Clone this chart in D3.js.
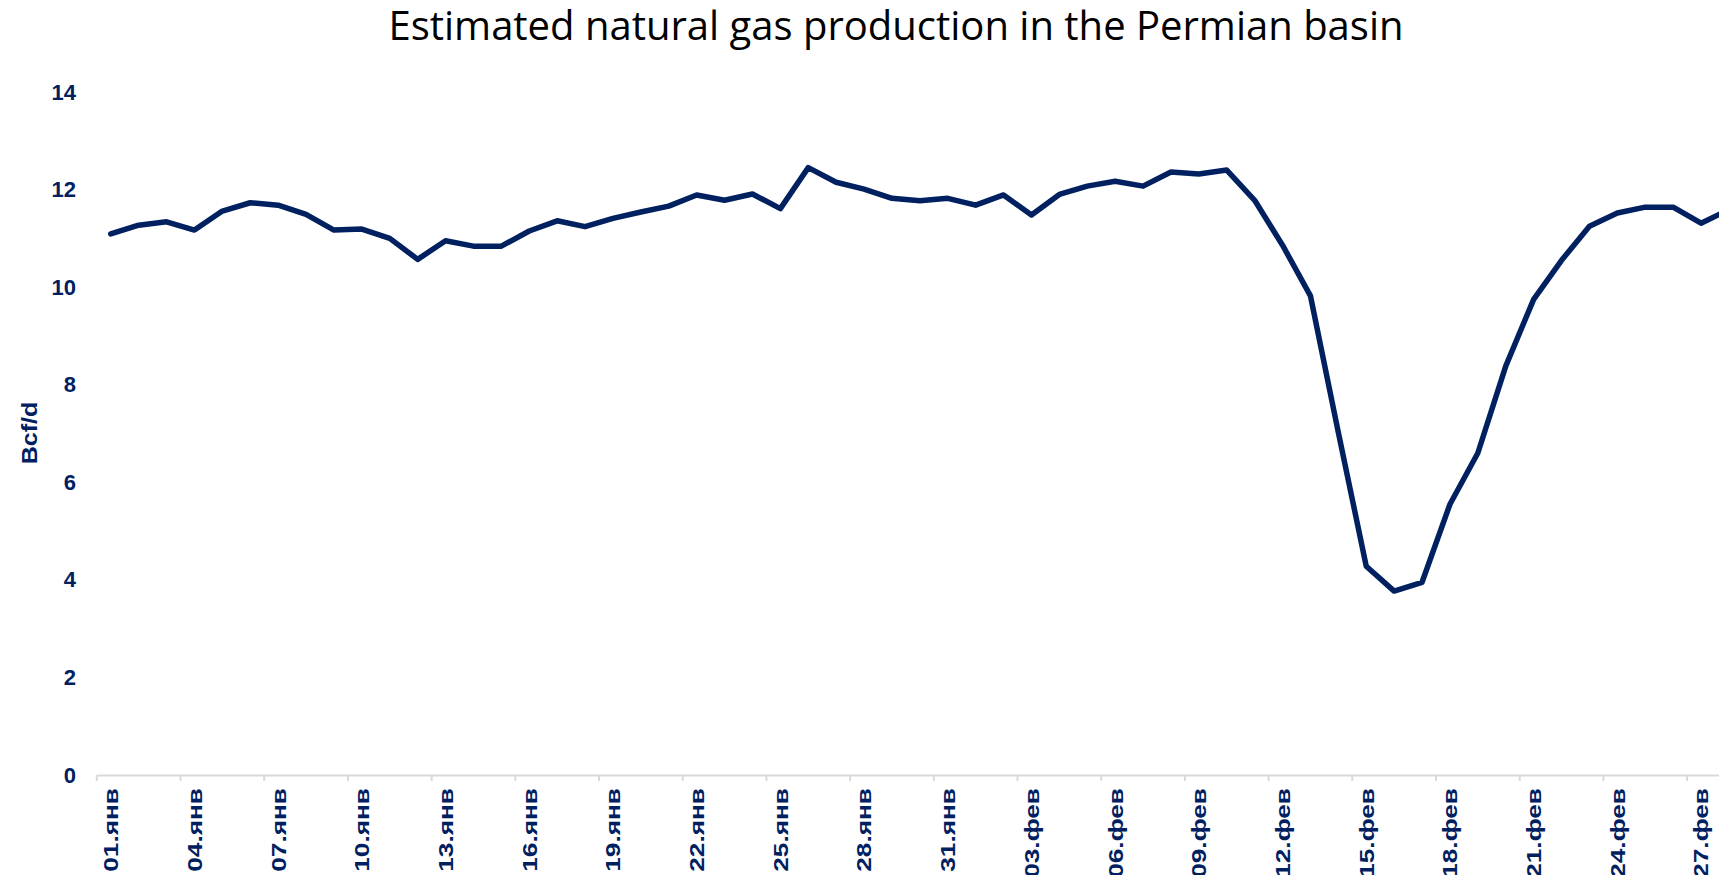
<!DOCTYPE html>
<html>
<head>
<meta charset="utf-8">
<script src="https://cdn.jsdelivr.net/npm/d3@7"></script>
<style>
  body { margin: 0; background: #fff; overflow: hidden; }
  svg { display: block; }
</style>
</head>
<body>
<div id="chart"></div>
<script>
//width and height
var w = 1719;
var h = 875;

// chart data
var dates = ["01.янв","02.янв","03.янв","04.янв","05.янв","06.янв","07.янв","08.янв","09.янв","10.янв",
	"11.янв","12.янв","13.янв","14.янв","15.янв","16.янв","17.янв","18.янв","19.янв","20.янв",
	"21.янв","22.янв","23.янв","24.янв","25.янв","26.янв","27.янв","28.янв","29.янв","30.янв",
	"31.янв","01.фев","02.фев","03.фев","04.фев","05.фев","06.фев","07.фев","08.фев","09.фев",
	"10.фев","11.фев","12.фев","13.фев","14.фев","15.фев","16.фев","17.фев","18.фев","19.фев",
	"20.фев","21.фев","22.фев","23.фев","24.фев","25.фев","26.фев","27.фев","28.фев"];

var production = [11.09, 11.27, 11.34, 11.17, 11.56, 11.73, 11.68, 11.49, 11.17, 11.19,
	11.00, 10.57, 10.95, 10.84, 10.84, 11.15, 11.36, 11.24, 11.41, 11.54,
	11.66, 11.89, 11.78, 11.91, 11.61, 12.45, 12.15, 12.01, 11.82, 11.77,
	11.82, 11.68, 11.89, 11.48, 11.90, 12.07, 12.17, 12.07, 12.36, 12.32,
	12.40, 11.78, 10.86, 9.82, 7.02, 4.28, 3.77, 3.95, 5.55, 6.60,
	8.38, 9.75, 10.55, 11.25, 11.52, 11.64, 11.64, 11.31, 11.59];

var yTicks = [0, 2, 4, 6, 8, 10, 12, 14];

var title = "Estimated natural gas production in the Permian basin";
var yTitle = "Bcf/d";

var navy = "#002060";
var axisGrey = "#d9d9d9";
var labelFont = "'Liberation Sans', Arial, sans-serif";

// plot area (runs past the right edge, like the original)
var plotLeft = 96.8;
var bandW = 27.9;
var plotTop = 92;
var plotBottom = 775;

var svg = d3.select("#chart")
	.append("svg")
	.attr("width", w)
	.attr("height", h);

//scale function
var xScale = d3.scaleBand()
	.domain(dates)
	.range([plotLeft, plotLeft + bandW * dates.length])
	.paddingInner(0)
	.paddingOuter(0);

var yScale = d3.scaleLinear()
	.domain([0, 14])
	.range([plotBottom, plotTop]);

var shown = dates.filter(function (d, i) { return i % 3 === 0; });

//title
svg.append("text")
	.attr("x", 896)
	.attr("y", 40)
	.attr("text-anchor", "middle")
	.attr("font-family", "'Open Sans', 'Noto Sans', sans-serif")
	.attr("font-size", "40px")
	.attr("fill", "#000")
	.text(title);

//y axis
var yAxis = d3.axisLeft(yScale).tickValues(yTicks).tickSize(0).tickPadding(0);
var gy = svg.append("g")
	.attr("transform", "translate(76,0)")
	.call(yAxis);
gy.select(".domain").remove();
gy.selectAll("text")
	.attr("font-family", labelFont)
	.attr("font-size", "22px")
	.attr("font-weight", "bold")
	.attr("fill", navy);

//y axis title
svg.append("text")
	.attr("transform", "translate(37,433) rotate(-90) scale(1.14,1)")
	.attr("text-anchor", "middle")
	.attr("font-family", labelFont)
	.attr("font-size", "22px")
	.attr("font-weight", "bold")
	.attr("fill", navy)
	.text(yTitle);

//x axis
var xAxis = d3.axisBottom(xScale).tickValues(shown).tickSize(6).tickSizeOuter(0).tickPadding(0);
var gx = svg.append("g")
	.attr("transform", "translate(0," + plotBottom + ")")
	.call(xAxis);
gx.select(".domain")
	.attr("stroke", axisGrey)
	.attr("stroke-width", 2);
// ticks sit on the category boundaries
gx.selectAll(".tick line")
	.attr("stroke", axisGrey)
	.attr("stroke-width", 2)
	.attr("transform", "translate(" + (-xScale.bandwidth() / 2) + ",0)");
// labels are stretched along their length in the original
gx.selectAll(".tick text")
	.attr("font-family", labelFont)
	.attr("font-size", "21px")
	.attr("font-weight", "bold")
	.attr("fill", navy)
	.attr("text-anchor", "end")
	.attr("dy", "0.35em")
	.attr("transform", "translate(0,13) rotate(-90) scale(1.25,1)")
	.attr("x", 0)
	.attr("y", 0);

//line
var line = d3.line()
	.x(function (d, i) { return xScale(dates[i]) + xScale.bandwidth() / 2; })
	.y(function (d) { return yScale(d); });

svg.append("path")
	.datum(production)
	.attr("d", line)
	.attr("fill", "none")
	.attr("stroke", navy)
	.attr("stroke-width", 5.5)
	.attr("stroke-linejoin", "round")
	.attr("stroke-linecap", "round");
</script>
</body>
</html>
